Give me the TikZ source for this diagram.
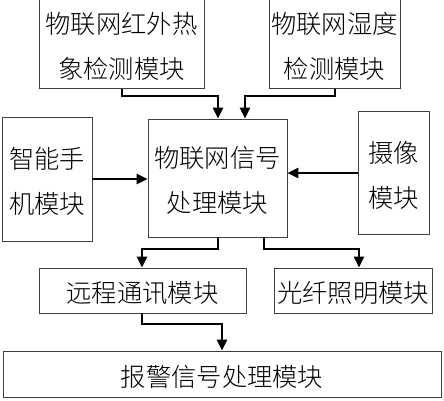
\documentclass[tikz,border=0pt]{standalone}
\usepackage{fontspec}
\setmainfont{Noto Sans CJK SC}[UprightFont=* Light]
\usetikzlibrary{arrows.meta}
\newcommand\lowtxt[1]{\raisebox{-3pt}[\height][\depth]{\begin{tabular}{@{}c@{}}#1\end{tabular}}}
\begin{document}
\begin{tikzpicture}[x=1pt,y=-1pt,
  box/.style={draw=black!75,line width=0.9pt,rectangle,inner sep=0pt,align=center,
    font=\fontsize{25.3}{45}\selectfont\renewcommand\arraystretch{1}},
  conn/.style={line width=2.6pt,-{Triangle[length=11pt,width=10pt]}}]
\useasboundingbox (0,0) rectangle (444,400);
\node[box,minimum width=165pt,minimum height=81pt] (ir) at (121.5,43.5) {\lowtxt{物联网红外热\\象检测模块}};
\node[box,minimum width=131pt,minimum height=81pt] (hum) at (334.5,43.5) {\lowtxt{物联网湿度\\检测模块}};
\node[box,minimum width=139pt,minimum height=118pt] (sig) at (217.5,178) {\lowtxt{物联网信号\\处理模块}};
\node[box,minimum width=90pt,minimum height=124pt] (phone) at (47,179) {\lowtxt{智能手\\机模块}};
\node[box,minimum width=71pt,minimum height=123pt] (cam) at (393.5,172.5) {\lowtxt{摄像\\模块}};
\node[box,minimum width=207pt,minimum height=43pt] (remote) at (142.5,290.5) {\lowtxt{远程通讯模块}};
\node[box,minimum width=158pt,minimum height=43pt] (fiber) at (353,290.5) {\lowtxt{光纤照明模块}};
\node[box,minimum width=438pt,minimum height=46pt] (alarm) at (222,374) {\lowtxt{报警信号处理模块}};
\draw[conn] (ir.south -| 122,0) |- (218,96) -- (sig.north -| 218,0);
\draw[conn] (hum.south -| 335,0) |- (245,96) -- (sig.north -| 245,0);
\draw[conn] (phone.east |- 0,179) -- (sig.west |- 0,179);
\draw[conn] (cam.west |- 0,173) -- (sig.east |- 0,173);
\draw[conn] (sig.south -| 218,0) |- (142,249) -- (remote.north -| 142,0);
\draw[conn] (sig.south -| 264,0) |- (359,249) -- (fiber.north -| 359,0);
\draw[conn] (remote.south -| 142,0) |- (222,324) -- (alarm.north -| 222,0);
\end{tikzpicture}
\end{document}
